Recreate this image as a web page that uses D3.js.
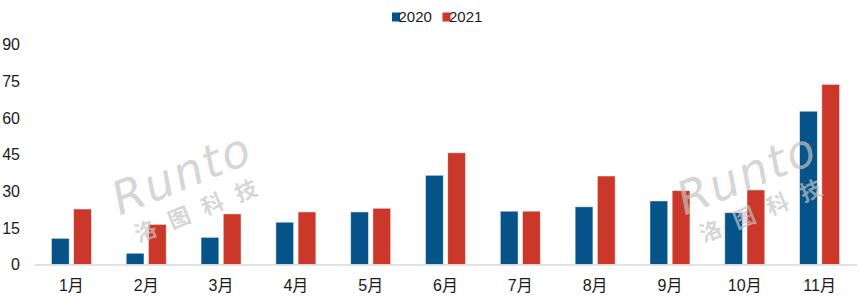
<!DOCTYPE html>
<html>
<head>
<meta charset="utf-8">
<script src="https://cdn.jsdelivr.net/npm/d3@7"></script>
<style>
  body { margin: 0; background: #fff; }
  svg { display: block; font-family: "Liberation Sans", Arial, sans-serif; }
</style>
</head>
<body>
<svg id="chart" width="865" height="302"></svg>
<script>
// data
var months = ["1月", "2月", "3月", "4月", "5月", "6月", "7月", "8月", "9月", "10月", "11月"];
var series = ["2020", "2021"];
var values2020 = [10.7, 4.6, 11.1, 17.3, 21.5, 36.5, 21.8, 23.6, 26.0, 21.2, 62.7];
var values2021 = [22.7, 16.4, 20.7, 21.5, 23.0, 45.7, 21.8, 36.2, 30.2, 30.5, 73.7];
var yTicks = [0, 15, 30, 45, 60, 75, 90];
var colors = ["#06538a", "#cb3728"];

var svg = d3.select("#chart");
var margin = { top: 44.5, right: 8, bottom: 37.5, left: 34 };
var width = +svg.attr("width") - margin.left - margin.right;
var height = +svg.attr("height") - margin.top - margin.bottom;

var g = svg.append("g").attr("transform", "translate(" + margin.left + "," + margin.top + ")");

var x = d3.scaleBand().domain(months).range([0, width]);
var x1 = d3.scaleBand().domain(series).range([-20, 20]).paddingInner(0.2);
var y = d3.scaleLinear().domain([0, 90]).range([height, 0]);
var z = d3.scaleOrdinal().domain(series).range(colors);

var rows = months.map(function (m, i) {
    return { month: m, values: [
        { key: "2020", value: values2020[i] },
        { key: "2021", value: values2021[i] }
    ] };
});

// y labels (no axis line)
svg.append("g")
    .selectAll("text")
    .data(yTicks)
    .enter().append("text")
    .attr("x", 20)
    .attr("y", function (d) { return margin.top + y(d); })
    .attr("dy", "0.36em")
    .attr("text-anchor", "end")
    .attr("fill", "#1a1a1a")
    .style("font-size", "16px")
    .text(function (d) { return d; });

// bars
var group = g.selectAll(".month")
    .data(rows)
    .enter().append("g")
    .attr("class", "month")
    .attr("transform", function (d) { return "translate(" + (x(d.month) + x.bandwidth() / 2) + ",0)"; });

group.selectAll("rect")
    .data(function (d) { return d.values; })
    .enter().append("rect")
    .attr("x", function (d) { return x1(d.key); })
    .attr("width", x1.bandwidth())
    .attr("y", function (d) { return y(d.value); })
    .attr("height", function (d) { return height - y(d.value); })
    .attr("fill", function (d) { return z(d.key); })
    .attr("stroke", "#ffffff")
    .attr("stroke-opacity", 0.6)
    .attr("stroke-width", 0.8);

// x axis
var xAxis = g.append("g")
    .attr("transform", "translate(0," + height + ")")
    .call(d3.axisBottom(x).tickSize(0).tickPadding(15));
xAxis.select(".domain").attr("stroke", "#d9d9d9").attr("stroke-width", 1.5);
xAxis.selectAll("text")
    .attr("fill", "#1a1a1a")
    .style("font-size", "16px")
    .style("font-family", "'Liberation Sans', 'Noto Sans CJK SC', sans-serif");

// legend
var legend = svg.append("g").attr("transform", "translate(392,17)");
var item = legend.selectAll("g")
    .data(series)
    .enter().append("g")
    .attr("transform", function (d, i) { return "translate(" + (i * 50.5) + ",0)"; });
item.append("rect")
    .attr("x", 0)
    .attr("y", -4.5)
    .attr("width", 8)
    .attr("height", 9)
    .attr("fill", function (d) { return z(d); });
item.append("text")
    .attr("x", 6.5)
    .attr("dy", "0.36em")
    .attr("fill", "#1a1a1a")
    .style("font-size", "15px")
    .text(function (d) { return d; });

// watermarks, drawn over the bars like the original
var marks = [[190, 194], [755, 194]];
var wm = svg.selectAll(".wm")
    .data(marks)
    .enter().append("g")
    .attr("class", "wm")
    .attr("transform", function (d) { return "translate(" + d[0] + "," + d[1] + ") rotate(-22)"; })
    .style("pointer-events", "none");
wm.append("text")
    .attr("x", 0)
    .attr("y", -6)
    .attr("text-anchor", "middle")
    .attr("fill", "#c4c4c4")
    .attr("fill-opacity", 0.7)
    .style("font-size", "46px")
    .style("font-style", "italic")
    .style("font-family", "'DejaVu Sans', sans-serif")
    .style("letter-spacing", "2px")
    .text("Runto");
wm.append("text")
    .attr("x", 6)
    .attr("y", 26)
    .attr("text-anchor", "middle")
    .attr("fill", "#c4c4c4")
    .attr("fill-opacity", 0.7)
    .style("font-size", "22px")
    .style("font-weight", "bold")
    .style("font-family", "'Noto Sans CJK SC', sans-serif")
    .style("letter-spacing", "14px")
    .text("洛图科技");
</script>
</body>
</html>
